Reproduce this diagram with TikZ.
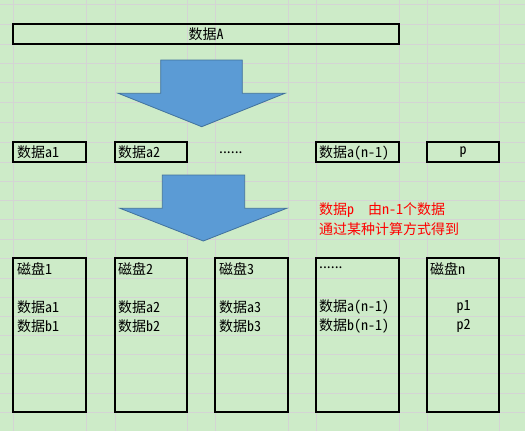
\documentclass[tikz,border=0pt]{standalone}
\usepackage{fontspec}
\setmainfont{Noto Sans CJK SC}[RawFeature=+hwid]
\newfontfamily\propfont{Noto Sans CJK SC}
\definecolor{bggreen}{RGB}{205,235,200}
\definecolor{gridgray}{RGB}{212,212,212}
\definecolor{arrowfill}{RGB}{91,155,213}
\definecolor{arrowline}{RGB}{65,113,156}
\definecolor{notered}{RGB}{255,0,0}
\newcommand{\cellfont}{\fontsize{14}{17}\selectfont}
\begin{document}
\begin{tikzpicture}[x=1pt,y=-1pt,
  cellbox/.style={draw=black, line width=2.6pt, inner sep=0pt, outer sep=0pt, anchor=north west},
  celltext/.style={anchor=west, inner sep=0pt, font=\cellfont, text=black},
  centertext/.style={anchor=center, inner sep=0pt, font=\cellfont, text=black},
  dotstext/.style={anchor=west, inner sep=0pt, font=\cellfont\propfont, text=black},
  redtext/.style={anchor=west, inner sep=0pt, font=\cellfont, text=notered},
  blockarrow/.style={fill=arrowfill, draw=arrowline, line width=0.8pt, line join=miter},
  gridline/.style={draw=gridgray, line width=1pt}]
% background and page size
\fill[bggreen] (0,0) rectangle (525,431);
\useasboundingbox (0,0) rectangle (525,431);
% spreadsheet grid
\foreach \gx in {13,86,115,187,215,288,316,399,427,499}
  \draw[gridline] (\gx,0) -- (\gx,431);
\foreach \gy in {4.5,24,44,63,82,102,122,142,162,181,200,219,239,258,278,297,316,335,354,373,393,412}
  \draw[gridline] (0,\gy) -- (525,\gy);
% top box
\node[cellbox, minimum width=386pt, minimum height=20pt] (boxA) at (13,24) {};
\node[centertext] (tA) at (206,34.5) {数据A};
% first block arrow
\fill[blockarrow] (160.7,60) -- (242.3,60) -- (242.3,93.3) -- (285,93.3) -- (201.7,126.7)
  -- (118.3,93.3) -- (160.7,93.3) -- cycle;
% middle row
\node[cellbox, minimum width=73pt, minimum height=20pt] (ba1) at (13,142) {};
\node[celltext] (ta1) at (17,152.5) {数据a1};
\node[cellbox, minimum width=72pt, minimum height=20pt] (ba2) at (115,142) {};
\node[celltext] (ta2) at (118,152.5) {数据a2};
\node[dotstext] (tdots1) at (219,152.5) {......};
\node[cellbox, minimum width=83pt, minimum height=20pt] (ban) at (316,142) {};
\node[celltext] (tan) at (319,152.5) {数据a(n-1)};
\node[cellbox, minimum width=72pt, minimum height=20pt] (bp) at (427,142) {};
\node[centertext] (tp) at (463,152.5) {p};
% second block arrow
\fill[blockarrow] (162.3,175) -- (244.7,175) -- (244.7,208.3) -- (286.7,208.3) -- (203.3,241)
  -- (120,208.3) -- (162.3,208.3) -- cycle;
% note
\node[redtext] (note1) at (319,210.5) {数据p\ \ 由n-1个数据};
\node[redtext] (note2) at (319,229.5) {通过某种计算方式得到};
% disks
\node[cellbox, minimum width=73pt, minimum height=154pt] (d1) at (13,258) {};
\node[celltext] (d1t) at (17,269) {磁盘1};
\node[celltext] (d1a) at (17,307) {数据a1};
\node[celltext] (d1b) at (17,326) {数据b1};
\node[cellbox, minimum width=72pt, minimum height=154pt] (d2) at (115,258) {};
\node[celltext] (d2t) at (118,269) {磁盘2};
\node[celltext] (d2a) at (118,307) {数据a2};
\node[celltext] (d2b) at (118,326) {数据b2};
\node[cellbox, minimum width=73pt, minimum height=154pt] (d3) at (215,258) {};
\node[celltext] (d3t) at (219,269) {磁盘3};
\node[celltext] (d3a) at (219,307) {数据a3};
\node[celltext] (d3b) at (219,326) {数据b3};
\node[cellbox, minimum width=83pt, minimum height=154pt] (d4) at (316,258) {};
\node[dotstext] (d4t) at (319,268) {......};
\node[celltext] (d4a) at (319,307) {数据a(n-1)};
\node[celltext] (d4b) at (319,326) {数据b(n-1)};
\node[cellbox, minimum width=72pt, minimum height=154pt] (d5) at (427,258) {};
\node[celltext] (d5t) at (430,269) {磁盘n};
\node[centertext] (d5a) at (463.5,307) {p1};
\node[centertext] (d5b) at (463.5,326) {p2};
\end{tikzpicture}
\end{document}
